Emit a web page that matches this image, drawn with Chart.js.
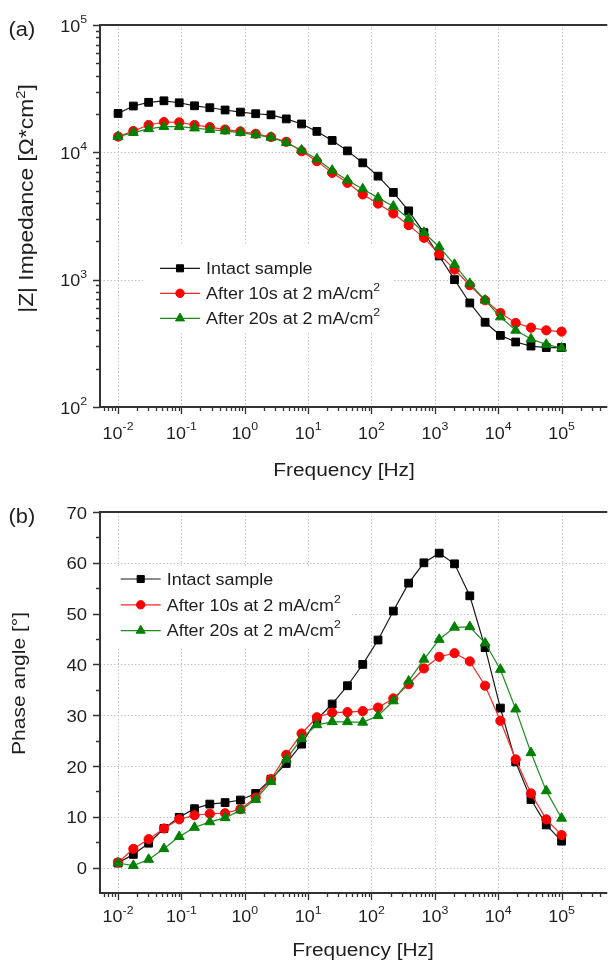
<!DOCTYPE html>
<html>
<head>
<meta charset="utf-8">
<script src="https://cdn.jsdelivr.net/npm/chart.js@4.4.1/dist/chart.umd.min.js"></script>
<style>
  html, body { margin: 0; padding: 0; background: #fff; overflow: hidden; }
  canvas { display: block; }
</style>
</head>
<body>
<canvas id="impChart" width="612" height="482" style="width:612px;height:482px"></canvas>
<canvas id="phaseChart" width="612" height="482" style="width:612px;height:482px"></canvas>
<script>
// measured frequencies [Hz]
const freq = [0.01, 0.01743, 0.03039, 0.05298, 0.09237, 0.1610, 0.2807, 0.4894, 0.8532, 1.487,
  2.593, 4.520, 7.880, 13.74, 23.95, 41.75, 72.79, 126.9, 221.2, 385.7,
  672.3, 1172, 2043, 3562, 6210, 10826, 18874, 32903, 57362, 100000];

// |Z| [Ohm*cm2]
const impIntact = [20200, 23100, 24700, 25400, 24500, 23200, 22400, 21500, 20700, 20100,
  19700, 18300, 16700, 14600, 12400, 10270, 8270, 6500, 4840, 3470,
  2340, 1535, 1000, 656, 463, 365, 324, 301, 293, 293];
const impAfter10 = [13300, 14700, 16400, 17300, 17200, 16400, 15800, 15100, 14600, 14000,
  13200, 12100, 10200, 8530, 6900, 5760, 4670, 3960, 3310, 2680,
  2130, 1585, 1200, 904, 689, 547, 457, 420, 400, 391];
const impAfter20 = [13250, 14300, 15300, 15900, 15900, 15500, 15100, 14700, 14300, 13700,
  13100, 11900, 10400, 8860, 7210, 6040, 5160, 4390, 3770, 3020,
  2345, 1807, 1315, 931, 689, 509, 400, 342, 310, 290];

// phase angle [deg]
const phaseIntact = [0.9, 2.6, 4.8, 7.7, 9.9, 11.6, 12.5, 12.8, 13.3, 14.6,
  17.4, 20.5, 24.3, 29.2, 32.2, 35.8, 40.0, 44.8, 50.5, 56.0,
  60.0, 61.9, 59.8, 53.5, 43.3, 31.4, 20.8, 13.4, 8.4, 5.2];
const phaseAfter10 = [1.0, 3.7, 5.6, 7.7, 9.5, 10.3, 10.6, 10.7, 11.5, 13.8,
  17.4, 22.2, 26.4, 29.6, 30.5, 30.6, 30.8, 31.5, 33.3, 36.1,
  39.2, 41.5, 42.2, 40.6, 35.8, 28.9, 21.3, 14.6, 9.5, 6.4];
const phaseAfter20 = [0.9, 0.4, 1.6, 3.7, 6.1, 7.9, 9.0, 9.8, 11.3, 13.4,
  16.9, 21.3, 25.4, 28.1, 28.7, 28.7, 28.6, 29.9, 32.8, 36.7,
  41.0, 44.9, 47.3, 47.4, 44.2, 39.0, 31.2, 22.6, 15.1, 9.7];

// series names: [text, superscript]
const seriesNames = [['Intact sample', ''], ['After 10s at 2 mA/cm', '2'], ['After 20s at 2 mA/cm', '2']];

// axis ticks
const freqTicks = [1e-2, 1e-1, 1, 10, 100, 1e3, 1e4, 1e5];
const freqTickExp = ['-2', '-1', '0', '1', '2', '3', '4', '5'];
const impTicks = [1e2, 1e3, 1e4, 1e5];
const impTickExp = ['2', '3', '4', '5'];
const phaseTicks = [0, 10, 20, 30, 40, 50, 60, 70];
const phaseMinor = [5, 15, 25, 35, 45, 55, 65];

const X_MIN = 0.00519, X_MAX = 4.9e5;
const FONT = '"Liberation Sans", Arial, Helvetica, sans-serif';
const INK = '#1e1e1e';
const AXIS = '#333';
const STYLES = [
  { fill: '#000000', line: '#1a1a1a', shape: 'rect', r: 5.5, lr: 5 },
  { fill: '#ff0000', line: '#ff2626', shape: 'circle', r: 4.6, lr: 4.2 },
  { fill: '#008000', line: '#1c8c1c', shape: 'triangle', r: 5.7, lr: 5.2 }
];

function logMinors(lo, hi) {
  const out = [];
  for (let e = Math.floor(Math.log10(lo)); e <= Math.ceil(Math.log10(hi)); e++)
    for (let m = 2; m <= 9; m++) {
      const v = m * Math.pow(10, e);
      if (v > lo && v < hi) out.push(v);
    }
  return out;
}

// text parts: [{t, size, dy}] ; sx = stretch along the text
function drawRich(ctx, parts, x, y, o = {}) {
  const sx = o.sx || 1.12;
  ctx.save();
  let w = 0;
  for (const p of parts) { ctx.font = p.size + 'px ' + FONT; w += ctx.measureText(p.t).width; }
  ctx.translate(x, y);
  if (o.rot) ctx.rotate(o.rot);
  ctx.scale(sx, 1);
  let cx = o.align === 'center' ? -w / 2 : o.align === 'right' ? -w : 0;
  ctx.fillStyle = INK;
  ctx.textBaseline = 'alphabetic';
  ctx.textAlign = 'left';
  for (const p of parts) {
    ctx.font = p.size + 'px ' + FONT;
    ctx.fillText(p.t, cx, p.dy || 0);
    cx += ctx.measureText(p.t).width;
  }
  ctx.restore();
}

function marker(ctx, shape, x, y, r, color) {
  ctx.save();
  ctx.fillStyle = color; ctx.strokeStyle = color; ctx.lineWidth = 1;
  ctx.beginPath();
  if (shape === 'rect') {
    const s = r * Math.SQRT1_2;
    ctx.rect(x - s, y - s, 2 * s, 2 * s);
  } else if (shape === 'circle') {
    ctx.arc(x, y, r, 0, Math.PI * 2);
  } else {
    for (let k = 0; k < 3; k++) {
      const a = k * 2 * Math.PI / 3;
      ctx[k ? 'lineTo' : 'moveTo'](x + Math.sin(a) * r, y - Math.cos(a) * r);
    }
    ctx.closePath();
  }
  ctx.fill(); ctx.stroke();
  ctx.restore();
}

function panelPlugin(p) {
  return {
    id: 'panel',
    beforeDatasetsDraw(chart) {
      const { ctx, chartArea: a, scales: { x, y } } = chart;
      // dotted grid
      ctx.save();
      ctx.strokeStyle = '#c2c2c2'; ctx.lineWidth = 1; ctx.setLineDash([1.5, 2]);
      ctx.beginPath();
      for (const v of freqTicks) {
        const px = Math.round(x.getPixelForValue(v)) + 0.5;
        ctx.moveTo(px, a.top); ctx.lineTo(px, a.bottom);
      }
      for (const v of p.yGrid) {
        const py = Math.round(y.getPixelForValue(v)) + 0.5;
        ctx.moveTo(a.left, py); ctx.lineTo(a.right, py);
      }
      ctx.stroke();
      ctx.restore();
      // legend
      const L = p.legend;
      ctx.fillStyle = '#fff';
      ctx.fillRect(L.box[0], L.box[1], L.box[2], L.box[3]);
      seriesNames.forEach(([txt, sup], i) => {
        const cy = L.y0 + i * L.dy, st = STYLES[i];
        ctx.save();
        ctx.strokeStyle = st.line; ctx.lineWidth = 1.2;
        ctx.beginPath(); ctx.moveTo(L.x0, cy); ctx.lineTo(L.x0 + 40, cy); ctx.stroke();
        ctx.restore();
        marker(ctx, st.shape, L.x0 + 20, cy, st.lr, st.fill);
        const parts = [{ t: txt, size: 16 }];
        if (sup) parts.push({ t: sup, size: 11, dy: -8 });
        drawRich(ctx, parts, L.x0 + 46, cy + 5.8);
      });
    },
    afterDraw(chart) {
      const { ctx, chartArea: a, scales: { x, y } } = chart;
      ctx.save();
      ctx.strokeStyle = AXIS; ctx.lineWidth = 2;
      ctx.beginPath();
      ctx.moveTo(a.left, a.top); ctx.lineTo(a.right + 2, a.top);
      ctx.moveTo(a.left, a.top - 1); ctx.lineTo(a.left, a.bottom + 1);
      ctx.moveTo(a.left - 1, a.bottom); ctx.lineTo(a.right + 2, a.bottom);
      ctx.stroke();
      // tick marks
      ctx.lineWidth = 1.3;
      ctx.beginPath();
      for (const v of freqTicks) {
        const px = Math.round(x.getPixelForValue(v)) + 0.5;
        ctx.moveTo(px, a.bottom); ctx.lineTo(px, a.bottom + 7);
      }
      for (const v of logMinors(X_MIN, X_MAX)) {
        const px = Math.round(x.getPixelForValue(v)) + 0.5;
        ctx.moveTo(px, a.bottom); ctx.lineTo(px, a.bottom + 4);
      }
      for (const v of p.yTicks) {
        const py = Math.round(y.getPixelForValue(v)) + 0.5;
        ctx.moveTo(a.left - 7, py); ctx.lineTo(a.left, py);
      }
      for (const v of p.yMinor) {
        const py = Math.round(y.getPixelForValue(v)) + 0.5;
        ctx.moveTo(a.left - 4, py); ctx.lineTo(a.left, py);
      }
      ctx.stroke();
      ctx.restore();
      // x tick labels
      freqTicks.forEach((v, i) => {
        drawRich(ctx, [{ t: '10', size: 16 }, { t: freqTickExp[i], size: 11, dy: -8.5 }],
          x.getPixelForValue(v), a.bottom + p.xLabelDy, { align: 'center' });
      });
      // y tick labels
      p.yTicks.forEach((v, i) => {
        drawRich(ctx, p.yLabel(i), a.left - 13, y.getPixelForValue(v) + 6.5, { align: 'right' });
      });
      // axis titles and panel letter
      drawRich(ctx, [{ t: 'Frequency [Hz]', size: 18 }], p.xTitle[0], p.xTitle[1], { align: 'center', sx: 1.16 });
      drawRich(ctx, p.yTitleParts, p.yTitle[0], p.yTitle[1], { align: 'center', rot: -Math.PI / 2, sx: p.yTitle[2] });
      drawRich(ctx, [{ t: p.letter, size: 20 }], 8.5, p.letterY, { sx: 1.09 });
    }
  };
}

function datasets(series) {
  return series.map((ys, i) => ({
    label: seriesNames[i][0] + (seriesNames[i][1] ? '\u00b2' : ''),
    data: freq.map((f, k) => ({ x: f, y: ys[k] })),
    borderColor: STYLES[i].line,
    borderWidth: 1.2,
    backgroundColor: STYLES[i].fill,
    pointBackgroundColor: STYLES[i].fill,
    pointBorderColor: STYLES[i].fill,
    pointBorderWidth: 1,
    pointStyle: STYLES[i].shape,
    pointRadius: STYLES[i].r,
    tension: 0,
    order: 2 - i
  }));
}

function makeChart(id, series, yScale, padding, p) {
  return new Chart(document.getElementById(id), {
    type: 'line',
    data: { datasets: datasets(series) },
    options: {
      responsive: false, animation: false, devicePixelRatio: 1,
      layout: { padding },
      plugins: { legend: { display: false }, tooltip: { enabled: false } },
      scales: {
        x: { type: 'logarithmic', min: X_MIN, max: X_MAX, display: false },
        y: Object.assign({ display: false }, yScale)
      }
    },
    plugins: [panelPlugin(p)]
  });
}

makeChart('impChart', [impIntact, impAfter10, impAfter20],
  { type: 'logarithmic', min: 100, max: 1e5 },
  { left: 100, top: 25, right: 0, bottom: 75 },
  {
    yGrid: [1e3, 1e4],
    yTicks: impTicks,
    yMinor: logMinors(100, 1e5),
    yLabel: i => [{ t: '10', size: 16 }, { t: impTickExp[i], size: 11, dy: -8.5 }],
    xLabelDy: 31.5,
    xTitle: [344, 475.5],
    yTitle: [32.6, 198.5, 1.14],
    yTitleParts: [{ t: '|Z| Impedance [\u03a9*cm', size: 20 }, { t: '2', size: 13, dy: -8 }, { t: ']', size: 20 }],
    letter: '(a)', letterY: 36,
    legend: { box: [143, 245, 251, 88], x0: 160, y0: 268.3, dy: 25 }
  });

makeChart('phaseChart', [phaseIntact, phaseAfter10, phaseAfter20],
  { type: 'linear', min: -5, max: 70 },
  { left: 100, top: 30, right: 0, bottom: 71 },
  {
    yGrid: [0, 10, 20, 30, 40, 50, 60],
    yTicks: phaseTicks,
    yMinor: phaseMinor,
    yLabel: i => [{ t: String(phaseTicks[i]), size: 16.5 }],
    xLabelDy: 29.3,
    xTitle: [363, 474],
    yTitle: [24.6, 201.4, 1.17],
    yTitleParts: [{ t: 'Phase angle [\u00b0]', size: 18 }],
    letter: '(b)', letterY: 40.5,
    legend: { box: [102, 86, 248, 80], x0: 120.7, y0: 97, dy: 25.8 }
  });
</script>
</body>
</html>
